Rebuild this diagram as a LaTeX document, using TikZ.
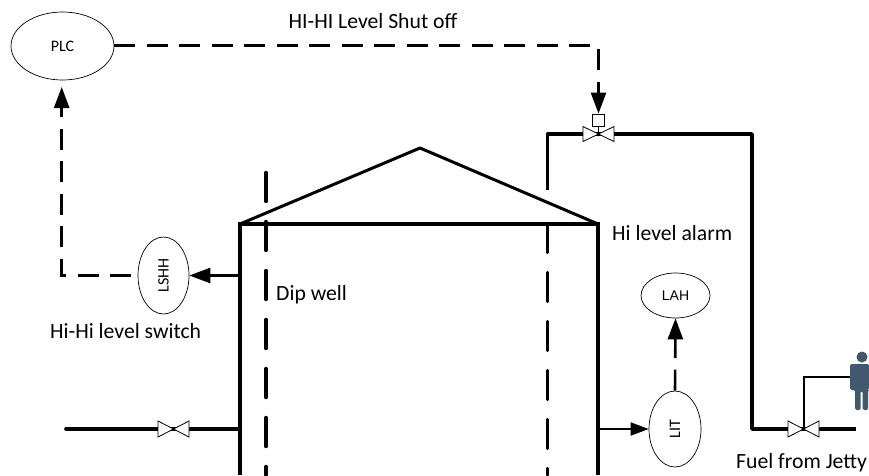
\documentclass[tikz,border=0pt]{standalone}
\usepackage{fontspec}
\setmainfont{Carlito}
\newfontfamily\instfont{Liberation Sans}
\usetikzlibrary{arrows.meta,shapes.geometric}
\definecolor{person}{HTML}{41596E}
\tikzset{
  x=1pt,y=-1pt,
  inst/.style={draw,line width=0.7pt,ellipse,inner sep=0pt,font=\fontsize{16}{18}\selectfont},
  pipe/.style={line width=3.6pt,line join=round},
  sig/.style={line width=2.6pt,dash pattern=on 21pt off 11.5pt,line join=miter},
  well/.style={line width=3.4pt,line cap=round,dash pattern=on 29pt off 20pt},
  bigtip/.style={-{Triangle[length=21pt,width=15pt]}},
  lbl/.style={inner sep=0pt,font=\fontsize{21.7}{24}\selectfont},
  valve/.style={draw,line width=0.8pt,fill=white},
}
\begin{document}
\begin{tikzpicture}
\useasboundingbox (0,0) rectangle (869,475);
% instruments
\node[inst,minimum width=103pt,minimum height=68pt] (plc) at (62.5,46) {PLC};
\node[inst,minimum width=51pt,minimum height=77pt] (lshh) at (163.5,275.5) {\rotatebox{90}{LSHH}};
\node[inst,minimum width=52pt,minimum height=76pt] (lit) at (675,429) {\rotatebox{90}{LIT}};
\node[inst,minimum width=69pt,minimum height=45pt,font=\instfont\fontsize{14}{16}\selectfont] (lah) at (675.5,295.5) {LAH};
% coordinates
\coordinate (tl) at (240,224);
\coordinate (tr) at (598,224);
\coordinate (apex) at (420,148);
\coordinate (bl) at (240,475);
\coordinate (br) at (598,475);
\coordinate (v1) at (598.5,134);
\coordinate (v2) at (803.5,429);
\coordinate (v3) at (173.5,429);
\coordinate (act) at (598.5,120);
\coordinate (inL) at (66,429);
\coordinate (lsw) at (131,275.5);
\coordinate (plcin) at (61.7,87);
% tank
\draw[pipe,line join=miter] (bl) -- (tl) -- (tr) -- (br);
\draw[line width=3pt,line join=round] (tl) -- (apex) -- (tr);
% dip wells
\draw[well] (266,172.5) -- (266,475);
\draw[well] (547.5,223.5) -- (547.5,475);
% piping
\draw[pipe] (547.5,190) -- (547.5,134) -- (v1) -- (752,134) -- (752,429) -- (v2) -- (856,429);
\draw[pipe,line cap=round] (inL) -- (v3) -- (240,429);
% valves
\foreach \c/\w/\h in {v1/15.5/7.5,v2/15.5/8,v3/15.5/8}{
  \draw[valve] (\c) -- ++(-\w,-\h) -- ++(0,2*\h) -- cycle;
  \draw[valve] (\c) -- ++(\w,-\h) -- ++(0,2*\h) -- cycle;
}
\draw[line width=1.4pt] (act) ++(0,6) -- (v1);
\node[draw,line width=0.8pt,fill=white,minimum size=12pt,inner sep=0pt] (actbox) at (act) {};
% signals
\draw[sig,bigtip] (lsw) -- (61.7,275.5) -- (plcin);
\draw[sig,bigtip] (plc.east |- 0,45.7) -- (598.5,45.7) -- (actbox.north);
\draw[sig,bigtip] (lit.north) -- (lah.south);
\draw[line width=2.6pt,-{Triangle[length=21pt,width=15pt]}] (240,275.5) -- (lshh.east);
\draw[line width=1.8pt,-{Triangle[length=18pt,width=13pt]}] (600,429) -- (lit.west);
% operator
\draw[line width=2pt] (v2) -- (803.5,377) -- (851,377);
\fill[person] (862,357) circle (5.5pt);
\fill[person,rounded corners=1.5pt] (850,364) -- (869,364) -- (869,390) -- (868,390) -- (868,410) -- (862.5,410) -- (862.5,391) -- (860.5,391) -- (860.5,410) -- (855,410) -- (855,390) -- (850,390) -- cycle;
% labels
\node[lbl] (t1) at (373,21) {HI-HI Level Shut off};
\node[lbl,anchor=west] (t2) at (612,233) {Hi level alarm};
\node[lbl,anchor=west] (t3) at (276,295) {Dip well};
\node[lbl,anchor=west] (t4) at (50,331) {Hi-Hi level switch};
\node[lbl,anchor=west] (t5) at (736,463) {Fuel from Jetty};
\end{tikzpicture}
\end{document}
